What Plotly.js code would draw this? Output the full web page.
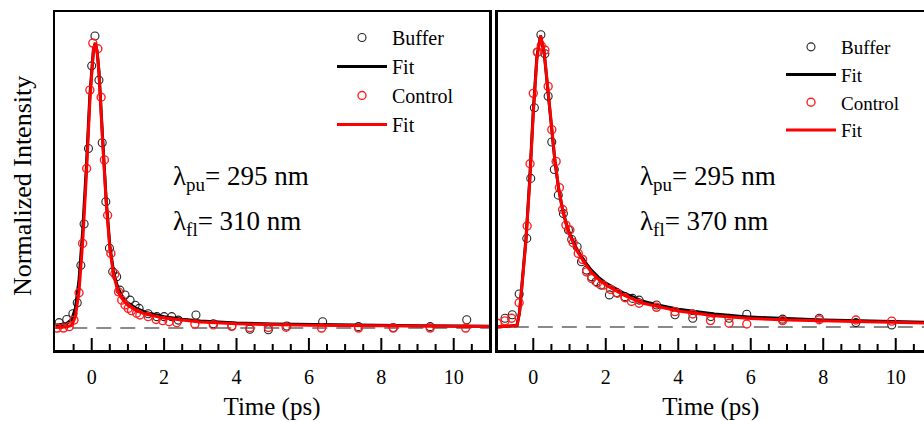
<!DOCTYPE html>
<html>
<head>
<meta charset="utf-8">
<script src="https://cdn.plot.ly/plotly-3.0.1.min.js"></script>
<style>html,body{margin:0;padding:0;background:#fff;}#chart{width:924px;height:421px;}</style>
</head>
<body>
<div id="chart"></div>
<script>
// ---- Left panel (λfl = 310 nm) ----
const leftBufferT = [-0.90,-0.69,-0.52,-0.40,-0.30,-0.21,-0.09,0.00,0.09,0.20,0.29,0.39,0.49,0.58,0.69,0.78,0.92,1.06,1.20,1.31,1.56,1.80,2.00,2.21,2.39,2.88,3.36,3.87,4.37,4.88,5.39,6.38,7.37,8.33,9.35,10.36];
const leftBufferV = [0.019,0.030,0.050,0.089,0.220,0.365,0.630,0.920,1.025,0.870,0.650,0.443,0.280,0.198,0.180,0.133,0.116,0.098,0.080,0.069,0.050,0.040,0.040,0.040,0.028,0.046,0.015,0.007,-0.004,-0.006,0.007,0.022,0.005,0.002,0.005,0.029];
const leftControlT = [-0.95,-0.78,-0.62,-0.49,-0.35,-0.25,-0.14,-0.05,0.03,0.17,0.26,0.35,0.44,0.53,0.64,0.74,0.83,0.92,1.01,1.10,1.24,1.33,1.56,1.78,1.96,2.14,2.35,2.85,3.36,3.87,4.37,4.88,5.37,6.35,7.37,8.33,9.35,10.33];
const leftControlV = [0.000,0.000,0.005,0.028,0.124,0.297,0.560,0.835,1.000,0.980,0.810,0.590,0.396,0.262,0.190,0.127,0.098,0.081,0.069,0.061,0.052,0.046,0.040,0.030,0.026,0.022,0.019,0.014,0.011,0.006,0.001,0.002,0.003,0.000,0.000,0.000,0.000,0.000];
const leftFitT = [-1.0,-0.7,-0.55,-0.45,-0.35,-0.25,-0.15,-0.05,0.05,0.1,0.15,0.2,0.3,0.4,0.5,0.6,0.7,0.8,0.9,1.0,1.25,1.5,2.0,2.5,3.0,4.0,5.0,6.0,7.0,8.0,9.0,10.0,11.0];
const leftFitBuffer = [0.010,0.015,0.030,0.070,0.170,0.340,0.560,0.820,0.980,1.000,0.970,0.900,0.670,0.450,0.290,0.200,0.150,0.120,0.100,0.088,0.068,0.055,0.040,0.031,0.025,0.018,0.014,0.012,0.010,0.009,0.008,0.007,0.006];
const leftFitControl = [0.003,0.004,0.010,0.040,0.130,0.300,0.530,0.800,0.980,1.000,0.970,0.900,0.660,0.440,0.280,0.190,0.140,0.110,0.093,0.080,0.060,0.048,0.035,0.027,0.021,0.015,0.012,0.010,0.009,0.008,0.007,0.006,0.005];

// ---- Right panel (λfl = 370 nm) ----
const rightBufferT = [-0.78,-0.58,-0.39,-0.18,-0.07,0.03,0.12,0.21,0.32,0.41,0.51,0.58,0.69,0.83,0.97,1.06,1.21,1.33,1.47,1.61,1.73,1.87,2.10,2.30,2.53,2.74,2.92,3.40,3.91,4.40,4.90,5.40,5.89,6.88,7.89,8.90,9.89];
const rightBufferV = [0.030,0.042,0.114,0.307,0.515,0.760,0.953,1.013,0.947,0.800,0.641,0.546,0.457,0.393,0.336,0.303,0.278,0.226,0.197,0.174,0.157,0.145,0.111,0.119,0.105,0.099,0.093,0.076,0.042,0.030,0.036,0.030,0.044,0.027,0.030,0.015,0.007];
const rightControlT = [-0.99,-0.78,-0.60,-0.39,-0.17,-0.09,0.00,0.11,0.22,0.32,0.41,0.51,0.63,0.72,0.81,0.90,1.01,1.10,1.24,1.36,1.47,1.61,1.77,1.93,2.13,2.32,2.53,2.71,2.92,3.40,3.91,4.40,4.89,5.40,5.89,6.88,7.89,8.90,9.89];
const rightControlV = [0.013,0.021,0.030,0.084,0.350,0.566,0.810,0.953,0.975,0.960,0.834,0.684,0.574,0.483,0.407,0.353,0.336,0.292,0.255,0.234,0.191,0.168,0.153,0.145,0.130,0.117,0.101,0.088,0.082,0.068,0.053,0.045,0.022,0.013,0.010,0.022,0.025,0.024,0.020];
const rightFitT = [-1.0,-0.45,-0.38,-0.3,-0.2,-0.1,0.0,0.1,0.2,0.3,0.4,0.5,0.6,0.7,0.8,0.9,1.0,1.2,1.4,1.6,1.8,2.0,2.5,3.0,3.5,4.0,5.0,6.0,7.0,8.0,9.0,10.0,11.0];
const rightFitBuffer = [0.000,0.005,0.050,0.160,0.310,0.510,0.750,0.940,1.010,0.950,0.830,0.690,0.570,0.478,0.412,0.362,0.324,0.270,0.230,0.197,0.172,0.152,0.117,0.090,0.074,0.061,0.045,0.034,0.028,0.024,0.021,0.018,0.016];
const rightFitControl = [0.000,0.005,0.050,0.150,0.300,0.500,0.740,0.930,1.010,0.955,0.835,0.695,0.575,0.482,0.412,0.360,0.320,0.265,0.225,0.190,0.165,0.145,0.110,0.083,0.068,0.055,0.039,0.029,0.024,0.021,0.018,0.015,0.013];

// zero baseline (dashed) spanning each panel
const baselineT = [-1.2, 11.2];
const baselineV = [0, 0];

const seriesNames = ['Buffer','Fit','Control','Fit'];
const panelLabels = [
  {pu:'295', fl:'310'},
  {pu:'295', fl:'370'}
];
const yTitle = 'Normalized Intensity';
const xTitle = 'Time (ps)';
// x-axis tick positions (ps)
const majorTickVals = [0, 2, 4, 6, 8, 10];
const minorTickVals = [-0.5, 0.5, 1, 1.5, 2.5, 3, 3.5, 4.5, 5, 5.5, 6.5, 7, 7.5, 8.5, 9, 9.5, 10.5];
const xTickStart = 0;
const xTickStep = 2;

const FONT = 'Liberation Serif';

function panelTraces(xa, ya, lg, bT, bV, cT, cV, fT, fB, fC){
  return [
    {x:baselineT, y:baselineV, xaxis:xa, yaxis:ya, legend:lg, showlegend:false,
     type:'scatter', mode:'lines', line:{color:'#8a8a8a', width:2, dash:'15px,9px'}},
    {x:bT, y:bV, xaxis:xa, yaxis:ya, legend:lg, name:seriesNames[0], type:'scatter', mode:'markers',
     marker:{symbol:'circle-open', size:8, color:'#222', line:{width:1.1, color:'#222'}}},
    {x:fT, y:fB, xaxis:xa, yaxis:ya, legend:lg, name:seriesNames[1], type:'scatter', mode:'lines',
     line:{color:'#000', width:3}},
    {x:cT, y:cV, xaxis:xa, yaxis:ya, legend:lg, name:seriesNames[2], type:'scatter', mode:'markers',
     marker:{symbol:'circle-open', size:8, color:'#ff2020', line:{width:1.4, color:'#ff2020'}}},
    {x:fT, y:fC, xaxis:xa, yaxis:ya, legend:lg, name:seriesNames[3], type:'scatter', mode:'lines',
     line:{color:'#ff0000', width:3}}
  ];
}

const data = [].concat(
  panelTraces('x','y','legend', leftBufferT, leftBufferV, leftControlT, leftControlV, leftFitT, leftFitBuffer, leftFitControl),
  panelTraces('x2','y2','legend2', rightBufferT, rightBufferV, rightControlT, rightControlV, rightFitT, rightFitBuffer, rightFitControl)
);

function xaxisCfg(domain, range, anchor){
  return {
    domain: domain, range: range, anchor: anchor, showgrid:false, zeroline:false,
    showline:true, linecolor:'#000', linewidth:2.5, mirror: true,
    tickmode:'linear', tick0:xTickStart, dtick:xTickStep,
    ticks:'', ticklabelstandoff: 7,
    tickfont:{family:FONT, size:20, color:'#000'},
    title:{text:xTitle, font:{family:FONT, size:25, color:'#000'}, standoff: 12}
  };
}
function yaxisCfg(domain, range, mirror, anchor){
  return {
    domain: domain, range: range, anchor: anchor, showgrid:false, zeroline:false,
    showline:true, linecolor:'#000', linewidth:2.5, mirror: mirror,
    ticks:'', showticklabels:false
  };
}

// inside tick marks on the bottom axis of each panel, placed in axis units
function tickShapes(xref, yref){
  const out = [];
  majorTickVals.forEach(v => out.push({type:'line', xref:xref, yref:yref, x0:v, x1:v,
    ysizemode:'pixel', yanchor:0, y0:0, y1:12, line:{color:'#000', width:2}}));
  minorTickVals.forEach(v => out.push({type:'line', xref:xref, yref:yref, x0:v, x1:v,
    ysizemode:'pixel', yanchor:0, y0:0, y1:6, line:{color:'#000', width:2}}));
  return out;
}

const leftDom = [0, (489-55)/869];
const rightDom = [(497.7-55)/869, 1];

const layout = {
  width:924, height:421,
  margin:{l:55, r:0, t:12, b:71},
  font:{family:FONT, color:'#000'},
  xaxis: xaxisCfg(leftDom, [-1.014, 10.975], 'y'),
  yaxis: yaxisCfg([0,1], [-0.077, 1.109], true, 'x'),
  xaxis2: xaxisCfg(rightDom, [-0.982, 10.78], 'y2'),
  yaxis2: yaxisCfg([0,1], [-0.080, 1.092], false, 'x2'),
  legend:{x:(332-55)/869, y:(350-18)/338, xanchor:'left', yanchor:'top',
          font:{family:FONT, size:20, color:'#000'}, itemwidth:50},
  legend2:{x:(781-55)/869, y:(350-28)/338, xanchor:'left', yanchor:'top',
          font:{family:FONT, size:19, color:'#000'}, itemwidth:50},
  shapes: [].concat(tickShapes('x','y domain'), tickShapes('x2','y2 domain')),
  annotations:[
    {xref:'paper', yref:'paper', x:(22-55)/869, y:(350-186)/338, xanchor:'center', yanchor:'middle',
     textangle:-90, showarrow:false, text:yTitle, font:{family:FONT, size:26, color:'#000'}},
    {xref:'x', yref:'paper', x:2.2, y:(350-178)/338, xanchor:'left', yanchor:'middle', showarrow:false,
     text:'λ<sub>pu</sub>= '+panelLabels[0].pu+' nm', font:{family:FONT, size:27, color:'#000'}},
    {xref:'x', yref:'paper', x:2.2, y:(350-223)/338, xanchor:'left', yanchor:'middle', showarrow:false,
     text:'λ<sub>fl</sub>= '+panelLabels[0].fl+' nm', font:{family:FONT, size:27, color:'#000'}},
    {xref:'x2', yref:'paper', x:2.88, y:(350-178)/338, xanchor:'left', yanchor:'middle', showarrow:false,
     text:'λ<sub>pu</sub>= '+panelLabels[1].pu+' nm', font:{family:FONT, size:27, color:'#000'}},
    {xref:'x2', yref:'paper', x:2.88, y:(350-223)/338, xanchor:'left', yanchor:'middle', showarrow:false,
     text:'λ<sub>fl</sub>= '+panelLabels[1].fl+' nm', font:{family:FONT, size:27, color:'#000'}}
  ]
};

Plotly.newPlot('chart', data, layout, {staticPlot:true});
</script>
</body>
</html>
